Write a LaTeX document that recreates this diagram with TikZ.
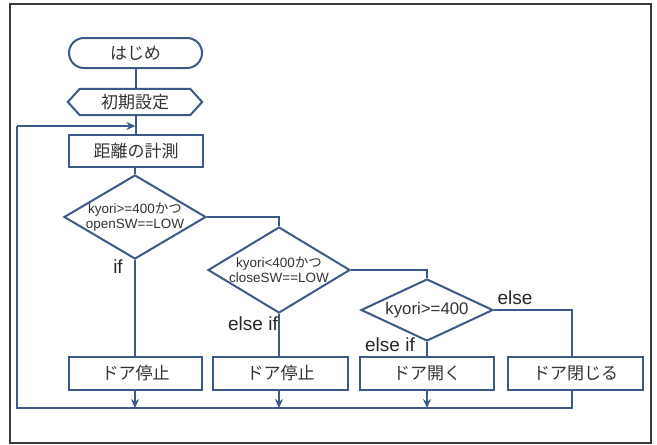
\documentclass[tikz,border=0pt]{standalone}
\usepackage{fontspec}
\setmainfont{Liberation Sans}
\newfontfamily\jp{Noto Sans CJK JP}
\usetikzlibrary{shapes.geometric,arrows.meta,calc}
\definecolor{flow}{HTML}{3C5A87}
\definecolor{ink}{HTML}{333333}
\definecolor{frame}{HTML}{3A3A3A}
\begin{document}
\begin{tikzpicture}[x=1pt,y=-1pt,
  line/.style={draw=flow,line width=2pt},
  arr/.style={line,-{Stealth[length=9pt,width=8pt]}},
  box/.style={draw=flow,line width=2pt,fill=white,inner sep=0pt,text=ink,
    minimum height=33pt,font=\jp\fontsize{17}{19}\selectfont},
  term/.style={box,rounded corners=15pt,minimum width=133pt,minimum height=30pt},
  plain/.style={inner sep=0pt,text=ink,font=\jp\fontsize{17}{19}\selectfont},
  dia/.style={draw=flow,line width=2pt,shape=diamond,inner sep=0pt},
  dtext/.style={inner sep=0pt,text=ink,align=center,font=\fontsize{13.5}{15}\selectfont},
  lab/.style={inner sep=0pt,text=black!85,font=\fontsize{19}{21}\selectfont}]
\fill[white] (0,0) rectangle (657,445);
\useasboundingbox (0,0) rectangle (657,445);
\draw[draw=frame,line width=2pt] (10,4) rectangle (651,443);

% nodes
\node[term] (start) at (135.5,53) {はじめ};
\node[plain,minimum width=110pt,minimum height=26pt] (prep) at (135,102) {初期設定};
\draw[line] (prep.north west) -- (prep.north east) -- ($(prep.east)+(12,0)$)
  -- (prep.south east) -- (prep.south west) -- ($(prep.west)+(-12,0)$) -- cycle;
\node[box,minimum width=134pt,minimum height=32pt] (measure) at (136,151) {距離の計測};

\node[dia,minimum width=142pt,minimum height=84pt] (d1) at (135,217) {};
\node[dtext] (t1) at (d1) {kyori>=400{\jp かつ}\\openSW==LOW};
\node[dia,minimum width=142pt,minimum height=86pt] (d2) at (279,270) {};
\node[dtext] (t2) at (d2) {kyori<400{\jp かつ}\\closeSW==LOW};
\node[dia,minimum width=132pt,minimum height=62pt] (d3) at (427,310) {};
\node[dtext,font=\fontsize{16.8}{18}\selectfont] (t3) at (d3) {kyori>=400};

\node[box,minimum width=133pt] (b1) at (135.5,373.5) {ドア停止};
\node[box,minimum width=135pt] (b2) at (280.5,373.5) {ドア停止};
\node[box,minimum width=134pt] (b3) at (427,373.5) {ドア開く};
\node[box,minimum width=135pt] (b4) at (575.5,373.5) {ドア閉じる};

\node[lab] (l1) at (118,267) {if};
\node[lab] (l2) at (253,324) {else if};
\node[lab] (l3) at (390,345) {else if};
\node[lab] (l4) at (515,298) {else};

% coordinates
\coordinate (elsex) at (572,310);
\coordinate (bot) at (17,408);
\coordinate (top) at (17,126);

% connectors
\draw[line] (start.south) -- (start.south |- prep.north);
\draw[line] (prep.south) -- (prep.south -| measure.north) -- (measure.north);
\draw[line] (measure.south -| d1.north) -- (d1.north);
\draw[line] (d1.south) -- (d1.south |- b1.north);
\draw[line] (d1.east) -| (d2.north);
\draw[line] (d2.south) -- (d2.south |- b2.north);
\draw[line] (d2.east) -| (d3.north);
\draw[line] (d3.south) -- (d3.south |- b3.north);
\draw[line] (d3.east) -- (elsex) -- (elsex |- b4.north);

\draw[arr] (d1.south |- b1.south) -- (d1.south |- bot);
\draw[arr] (d2.south |- b2.south) -- (d2.south |- bot);
\draw[arr] (d3.south |- b3.south) -- (d3.south |- bot);
\draw[line] (elsex |- b4.south) |- (bot) -- (top);
\draw[arr] (top) -- (top -| start.south);
\end{tikzpicture}
\end{document}
